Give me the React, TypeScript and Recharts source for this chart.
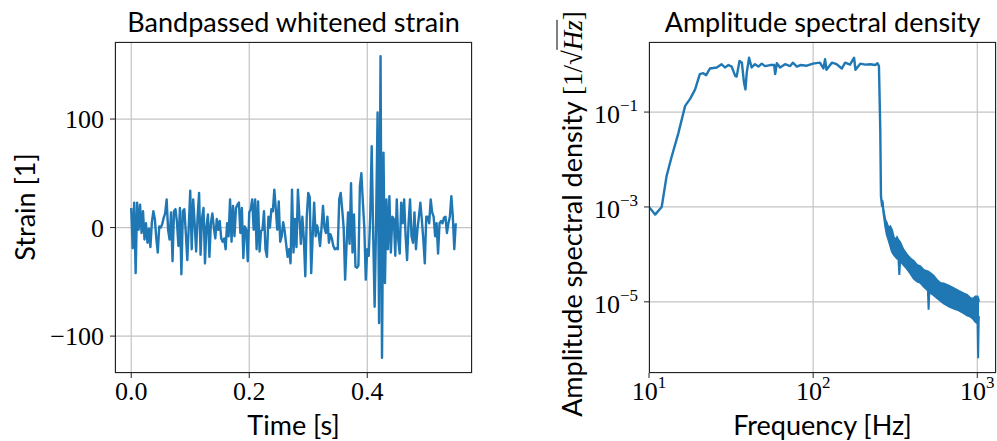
import React from "react";
import {
  ComposedChart,
  LineChart,
  Line,
  Area,
  XAxis,
  YAxis,
  CartesianGrid,
} from "recharts";

const BLUE = "#1f77b4";
const GRID = "#c4c4c4";
const SERIF = "'Liberation Serif', 'DejaVu Serif', serif";
const SANS = "Lato, 'Open Sans', sans-serif";

// ---- left panel: bandpassed whitened strain ----
const SAMPLE_DT = 0.0025; // s between samples
const STRAIN = [
  // 0.00 - 0.145 s
  18, -19, 23, -42, 23, -2, 21, -5, 15, -11, 4, -14, -1, -18, 5, 15, 8, -10, -23, 1,
  0, 3, 9, 13, 26, -2, -11, 14, -31, 15, 17, 5, -17, 18, -43, 15, 17, -5, -30, 1,
  34, -20, 26, 4, -22, 10, 32, -25, 9, 18, -33, 1, 12, -27, 4, 13, 0, -10, 8,
  // 0.1475 - 0.25 s
  -2, 6, -10, -13, -10, -20, 4, -8, 26, -13, 20, -8, 18, 21, 23, -5, 18, -28, 1, -2,
  -31, 14, 17, 26, -2, 26, -20, 24, -22, -3, -2, 15, -20, -27, 10, 0, 17, 15, 35, 17,
  -2, 24, -13,
  // 0.255 - 0.4225 s (chirp)
  -8, 5, -3, -15, -27, -20, -33, 35, -23, 8, -18, 35, 10, -15, 10, -10, -45, 10, 32, 28,
  -42, -8, 23, -8, 2, -5, -17, 0, 20, 0, -5, 10, -14, -6, -10, -17, -20, -19, -20, 26,
  32, 17, 0, -48, -15, 14, -15, 41, -23, 12, -36, -37, -35, 38, 50, 24, 0, -48, -20, -26,
  10, 75, -5, -73, 5, 106, -88, 158,
  // 0.425 - 0.55 s
  -120, 69, -51, 26, -20, 29, -23, 10, 8, -26, 26, -11, -24, 23, 4, 26, -8, -30, 4, 26,
  -8, -14, 14, -20, -2, 10, 23, 7, -11, -33, 10, 10, 4, 26, 14, 10, -8, 4, -24, 4,
  6, 4, 9, 10, -5, 4, 10, 29, 10, -20, 4,
];
const TIME_TICKS = [0, 0.2, 0.4];
const STRAIN_TICKS = [-100, 0, 100];

// ---- right panel: amplitude spectral density ----
const ASD_FREQ = [
  10, 10.9, 11.95, 12.8, 13.7, 15.1, 16.6, 17.8, 19.1, 20.4, 21.4, 22.3, 23.5, 25.9,
  27.7, 29.0, 30.5, 31.9, 33.5, 34.2, 35.6, 36.8, 37.9, 38.7, 39.4, 40.7, 42.2, 44.2,
  46.4, 48.6, 50.9, 54.7, 57.9, 58.7, 60.1, 62.9, 67.4, 72.4, 75.2, 79.6, 83.5, 91.5,
  99.8, 110, 115.5, 118.2, 120.6, 130, 139, 149.6, 156.6, 167.8, 177.6, 181, 193.9,
  207.9, 222.6, 239, 246.7, 251.7, 256.4, 258.9, 263.4,
];
const ASD_VALUE = [
  1.0e-3, 6.9e-4, 1.0e-3, 4.5e-3, 1.1e-2, 3.6e-2, 0.135, 0.19, 0.3, 0.63, 0.66, 0.6, 0.83, 0.87,
  1.02, 0.87, 0.98, 0.91, 0.58, 0.56, 1.2, 1.1, 0.42, 0.3, 0.68, 1.4, 0.87, 1.02,
  0.91, 1.05, 0.93, 0.98, 0.98, 0.63, 1.07, 0.87, 1.02, 0.93, 1.1, 0.91, 0.98, 0.95,
  1.05, 1.1, 0.83, 1.3, 0.78, 1.1, 1.02, 0.83, 1.1, 1.0, 1.4, 0.78, 1.05,
  1.0, 1.02, 0.98, 1.07, 0.93, 0.043, 1.7e-3, 1.0e-3,
];
// noisy roll-off above the bandpass edge: upper / lower envelope
const BAND_FREQ = [
  264, 268, 275, 281, 288, 295, 302, 309, 316, 324, 331, 335, 339, 347, 355, 372, 390, 410,
  429, 450, 471, 500, 505, 510, 540, 568, 596, 624, 670, 718, 770, 826, 866, 906, 940, 973,
  1004, 1012, 1020, 1024,
];
const BAND_HI = [
  1.4e-3, 8.9e-4, 5.4e-4, 4.6e-4, 3.6e-4, 3.9e-4, 3.3e-4, 2.4e-4, 2.0e-4, 2.3e-4, 2.0e-4,
  1.9e-4, 1.8e-4, 1.5e-4, 1.26e-4, 1.0e-4, 8.3e-5, 7.3e-5, 6.0e-5, 5.6e-5, 4.7e-5, 4.4e-5,
  4.3e-5, 4.2e-5, 3.6e-5, 2.9e-5, 2.5e-5, 2.45e-5, 2.2e-5, 1.95e-5, 1.7e-5, 1.5e-5, 1.4e-5,
  1.2e-5, 1.15e-5, 1.3e-5, 1.3e-5, 1.2e-5, 1.1e-5, 1.0e-5,
];
const BAND_LO = [
  1.26e-3, 7.6e-4, 3.9e-4, 2.6e-4, 2.0e-4, 1.5e-4, 1.15e-4, 1.0e-4, 9.1e-5, 8.2e-5, 7.8e-5,
  3.7e-5, 7.4e-5, 6.6e-5, 6.0e-5, 5.0e-5, 4.0e-5, 3.1e-5, 2.7e-5, 2.5e-5, 2.1e-5, 1.74e-5,
  6.8e-6, 1.6e-5, 1.4e-5, 1.2e-5, 1.05e-5, 9.3e-6, 8.0e-6, 7.2e-6, 6.6e-6, 5.8e-6, 5.2e-6,
  4.9e-6, 4.4e-6, 3.8e-6, 3.5e-6, 6.5e-7, 4.0e-6, 5.0e-6,
];
const FREQ_TICKS = [10, 100, 1000];
const ASD_TICKS = [1e-5, 1e-3, 1e-1];

const strainData = STRAIN.map((v, i) => ({ t: +(i * SAMPLE_DT).toFixed(4), v }));
const asdData = [
  ...ASD_FREQ.map((f, i) => ({ f, asd: ASD_VALUE[i] })),
  ...BAND_FREQ.map((f, i) => ({ f, band: [BAND_LO[i], BAND_HI[i]] })),
];

// panel layout (page pixels)
const LEFT = { x: 0, w: 480, plotL: 115, plotR: 472, yw: 60 };
const RIGHT = { x: 500, w: 497, plotL: 649, plotR: 996, yw: 70 };
const PLOT_TOP = 42;
const PLOT_BOTTOM = 373;
const H = 441;
const XH = 40;

function minus(v: number) {
  return v < 0 ? `\u2212${-v}` : `${v}`;
}

function PowXTick({ x, y, payload }: any) {
  const e = Math.round(Math.log10(payload.value));
  return (
    <text x={x} y={y + 20} textAnchor="middle" fontFamily={SERIF} fontSize={26} fill="#000">
      10
      <tspan dy={-12} fontSize={17}>
        {minus(e)}
      </tspan>
    </text>
  );
}

function PowYTick({ x, y, payload }: any) {
  const e = Math.round(Math.log10(payload.value));
  return (
    <text x={x} y={y + 11} textAnchor="end" fontFamily={SERIF} fontSize={26} fill="#000">
      10
      <tspan dy={-12} fontSize={17}>
        {minus(e)}
      </tspan>
    </text>
  );
}

function Frame({ l, r }: { l: number; r: number }) {
  return (
    <div
      style={{
        position: "absolute",
        left: l,
        top: PLOT_TOP,
        width: r - l,
        height: PLOT_BOTTOM - PLOT_TOP,
        border: "1px solid #222",
        boxSizing: "border-box",
        pointerEvents: "none",
      }}
    />
  );
}

function Label({
  x,
  y,
  rotate,
  children,
}: {
  x: number;
  y: number;
  rotate?: boolean;
  children: React.ReactNode;
}) {
  return (
    <div
      style={{
        position: "absolute",
        left: x,
        top: y,
        transform: `translate(-50%, -50%)${rotate ? " rotate(-90deg)" : ""}`,
        whiteSpace: "nowrap",
        fontFamily: SANS,
        fontSize: 27,
        color: "#000",
        lineHeight: 1,
      }}
    >
      {children}
    </div>
  );
}

export default function App() {
  const tickStyle = { fontFamily: SERIF, fontSize: 26, fill: "#000" };
  return (
    <div style={{ position: "absolute", left: 0, top: 0, width: 997, height: H, background: "#fff" }}>
      <div style={{ position: "absolute", left: LEFT.x, top: 0 }}>
        <LineChart
          width={LEFT.w}
          height={H}
          data={strainData}
          margin={{
            top: PLOT_TOP,
            left: LEFT.plotL - LEFT.x - LEFT.yw,
            right: LEFT.x + LEFT.w - LEFT.plotR,
            bottom: H - PLOT_BOTTOM - XH,
          }}
        >
          <CartesianGrid stroke={GRID} strokeWidth={1.2} />
          <XAxis
            dataKey="t"
            type="number"
            domain={[-0.0275, 0.5775]}
            ticks={TIME_TICKS}
            tickFormatter={(v) => Number(v).toFixed(1)}
            tick={tickStyle}
            axisLine={false}
            tickLine={{ stroke: "#222" }}
            tickSize={5}
            tickMargin={4}
            height={XH}
            allowDataOverflow
          />
          <YAxis
            type="number"
            domain={[-134, 171]}
            ticks={STRAIN_TICKS}
            tickFormatter={(v) => minus(Number(v))}
            tick={tickStyle}
            axisLine={false}
            tickLine={{ stroke: "#222" }}
            tickSize={5}
            tickMargin={6}
            width={LEFT.yw}
            allowDataOverflow
          />
          <Line
            dataKey="v"
            type="linear"
            stroke={BLUE}
            strokeWidth={2.4}
            strokeLinejoin="round"
            dot={false}
            isAnimationActive={false}
          />
        </LineChart>
      </div>

      <div style={{ position: "absolute", left: RIGHT.x, top: 0 }}>
        <ComposedChart
          width={RIGHT.w}
          height={H}
          data={asdData}
          margin={{
            top: PLOT_TOP,
            left: RIGHT.plotL - RIGHT.x - RIGHT.yw,
            right: RIGHT.x + RIGHT.w - RIGHT.plotR,
            bottom: H - PLOT_BOTTOM - XH,
          }}
        >
          <CartesianGrid stroke={GRID} strokeWidth={1.2} />
          <XAxis
            dataKey="f"
            type="number"
            scale="log"
            domain={[10, 1300]}
            ticks={FREQ_TICKS}
            tick={<PowXTick />}
            axisLine={false}
            tickLine={{ stroke: "#222" }}
            tickSize={5}
            tickMargin={2}
            height={XH}
            allowDataOverflow
          />
          <YAxis
            type="number"
            scale="log"
            domain={[3.16e-7, 3.0]}
            ticks={ASD_TICKS}
            tick={<PowYTick />}
            axisLine={false}
            tickLine={{ stroke: "#222" }}
            tickSize={5}
            tickMargin={6}
            width={RIGHT.yw}
            allowDataOverflow
          />
          <Area
            dataKey="band"
            type="linear"
            stroke={BLUE}
            strokeWidth={2}
            fill={BLUE}
            fillOpacity={1}
            isAnimationActive={false}
          />
          <Line
            dataKey="asd"
            type="linear"
            stroke={BLUE}
            strokeWidth={2.4}
            strokeLinejoin="round"
            dot={false}
            isAnimationActive={false}
          />
        </ComposedChart>
      </div>

      <Frame l={LEFT.plotL} r={LEFT.plotR} />
      <Frame l={RIGHT.plotL} r={RIGHT.plotR} />

      <Label x={(LEFT.plotL + LEFT.plotR) / 2} y={21}>
        Bandpassed whitened strain
      </Label>
      <Label x={(LEFT.plotL + LEFT.plotR) / 2} y={424}>
        Time [s]
      </Label>
      <Label x={24} y={207} rotate>
        Strain [1]
      </Label>

      <Label x={(RIGHT.plotL + RIGHT.plotR) / 2} y={21}>
        Amplitude spectral density
      </Label>
      <Label x={(RIGHT.plotL + RIGHT.plotR) / 2} y={424}>
        Frequency [Hz]
      </Label>
      <Label x={572} y={214} rotate>
        Amplitude spectral density{" "}
        <span style={{ fontFamily: SERIF }}>
          [1/√
          <span style={{ borderTop: "1.5px solid #000", fontStyle: "italic" }}>Hz</span>]
        </span>
      </Label>
    </div>
  );
}
